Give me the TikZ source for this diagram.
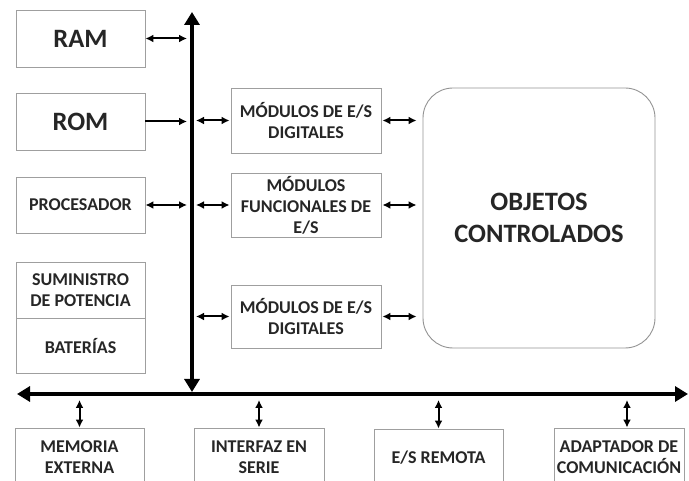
\documentclass[tikz,border=0pt]{standalone}
\usepackage{fontspec}
\setmainfont{Carlito}
\usetikzlibrary{arrows.meta}

\begin{document}
\begin{tikzpicture}[x=1pt,y=1pt,
  box/.style={draw=gray!75,line width=0.9pt,align=center,text=black!85,
    font=\bfseries\fontsize{18}{21}\selectfont,inner sep=1pt},
  big/.style={font=\bfseries\fontsize{26.5}{32}\selectfont},
  link/.style={{Latex[length=8pt,width=8pt]}-{Latex[length=8pt,width=8pt]},line width=2pt},
  bus/.style={{Triangle[length=13pt,width=15pt]}-{Triangle[length=13pt,width=15pt]},line width=3.6pt}]

\useasboundingbox (0,0) rectangle (689,480);
\clip (0,0) rectangle (689,480);

% left column
\node[box,big,minimum width=129,minimum height=57] (ram) at (80.5,441.5) {RAM};
\node[box,big,minimum width=129,minimum height=57] (rom) at (80.5,358.5) {ROM};
\node[box,minimum width=129,minimum height=56] (proc) at (80.5,275) {PROCESADOR};
\node[box,minimum width=129,minimum height=56] (sum) at (80.5,190) {SUMINISTRO\\DE POTENCIA};
\node[box,minimum width=129,minimum height=55,anchor=north] (bat) at (sum.south) {BATERÍAS};

% bus
\coordinate (bustop) at (192,468);
\coordinate (busbot) at (192,88);
\coordinate (busl) at (17,86);
\coordinate (busr) at (688,86);
\draw[bus] (busbot) -- (bustop);
\draw[bus] (busl) -- (busr);

% modules
\node[box,minimum width=150,minimum height=65] (mod1) at (306,359.5) {MÓDULOS DE E/S\\DIGITALES};
\node[box,minimum width=150,minimum height=64] (mod2) at (306,275) {MÓDULOS\\FUNCIONALES DE\\E/S};
\node[box,minimum width=150,minimum height=63] (mod3) at (306,163.5) {MÓDULOS DE E/S\\DIGITALES};

\node[box,big,draw=gray!85,rounded corners=30,minimum width=232,minimum height=260] (obj) at (539,262) {OBJETOS\\CONTROLADOS};

% bottom row
\node[box,minimum width=129,minimum height=58] (mem) at (79.5,23) {MEMORIA\\EXTERNA};
\node[box,minimum width=130,minimum height=58] (ser) at (259,23) {INTERFAZ EN\\SERIE};
\node[box,minimum width=129,minimum height=58] (rem) at (438.5,22) {E/S REMOTA};
\node[box,minimum width=130,minimum height=58] (adap) at (619,23) {ADAPTADOR DE\\COMUNICACIÓN};

\draw[link,shorten >=5pt] (ram.east) -- (ram.east -| bustop);
\draw[-{Latex[length=8pt,width=8pt]},line width=2pt,shorten >=5pt] (rom.east) -- (rom.east -| bustop);
\draw[link,shorten >=5pt] (proc.east) -- (proc.east -| bustop);

\draw[link,shorten <=4pt,shorten >=1pt] (mod1.west -| bustop) -- (mod1.west);
\draw[link,shorten <=4pt,shorten >=1pt] (mod2.west -| bustop) -- (mod2.west);
\draw[link,shorten <=4pt,shorten >=1pt] (mod3.west -| bustop) -- (mod3.west);

\draw[link,shorten <=1pt,shorten >=6pt] (mod1.east) -- (mod1.east -| obj.west);
\draw[link,shorten <=1pt,shorten >=6pt] (mod2.east) -- (mod2.east -| obj.west);
\draw[link,shorten <=1pt,shorten >=6pt] (mod3.east) -- (mod3.east -| obj.west);

\draw[link,shorten <=6pt] (mem.north |- busl) -- (mem.north);
\draw[link,shorten <=6pt] (ser.north |- busl) -- (ser.north);
\draw[link,shorten <=6pt] (rem.north |- busl) -- (rem.north);
\draw[link,shorten <=6pt] ([xshift=8pt]adap.north |- busl) -- ([xshift=8pt]adap.north);

\end{tikzpicture}
\end{document}
